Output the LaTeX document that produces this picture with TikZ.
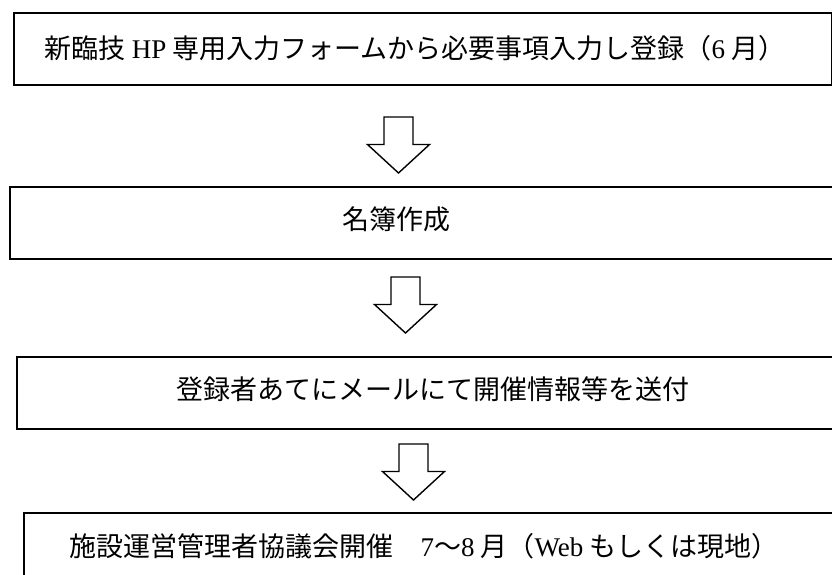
\documentclass[tikz,border=0pt]{standalone}
\usepackage{fontspec}
\setmainfont{Liberation Serif}
\newfontfamily\cjkfont{Noto Sans CJK JP}
\newfontfamily\latf{Liberation Serif}
\tikzset{
  boxst/.style={draw=black, line width=2pt, fill=white, inner sep=0pt, anchor=north west},
  txt/.style={inner sep=0pt, font=\cjkfont\fontsize{27pt}{32pt}\selectfont, text=black},
  arrowline/.style={draw=black, line width=1.4pt, fill=white, line join=miter},
  pics/blockarrow/.style={code={
    \draw[arrowline] (-14.5,0) -- (14.5,0) -- (14.5,27.5) -- (31,27.5) -- (0,56)
      -- (-31,27.5) -- (-14.5,27.5) -- cycle;}}
}
\begin{document}
\begin{tikzpicture}[x=1pt,y=-1pt]
\clip (0,0) rectangle (832,575);
\fill[white] (0,0) rectangle (832,575);
% boxes
\node[boxst, minimum width=818pt, minimum height=72pt] (b1) at (13,12) {};
\node[boxst, minimum width=840pt, minimum height=72pt] (b2) at (9,186) {};
\node[boxst, minimum width=840pt, minimum height=72pt] (b3) at (16,356) {};
\node[boxst, minimum width=840pt, minimum height=80pt] (b4) at (23,512) {};
% texts
\node[txt] (t1) at (415,48) {新臨技 {\latf HP} 専用入力フォームから必要事項入力し登録（{\latf 6} 月）};
\node[txt] (t2) at (396,219) {名簿作成};
\node[txt] (t3) at (433,389) {登録者あてにメールにて開催情報等を送付};
\node[txt] (t4) at (424,546) {施設運営管理者協議会開催　{\latf 7}〜{\latf 8} 月（{\latf Web} もしくは現地）};
% block arrows
\pic at (398.5,117) {blockarrow};
\pic at (405.5,277) {blockarrow};
\pic at (413.5,444) {blockarrow};
\end{tikzpicture}
\end{document}
